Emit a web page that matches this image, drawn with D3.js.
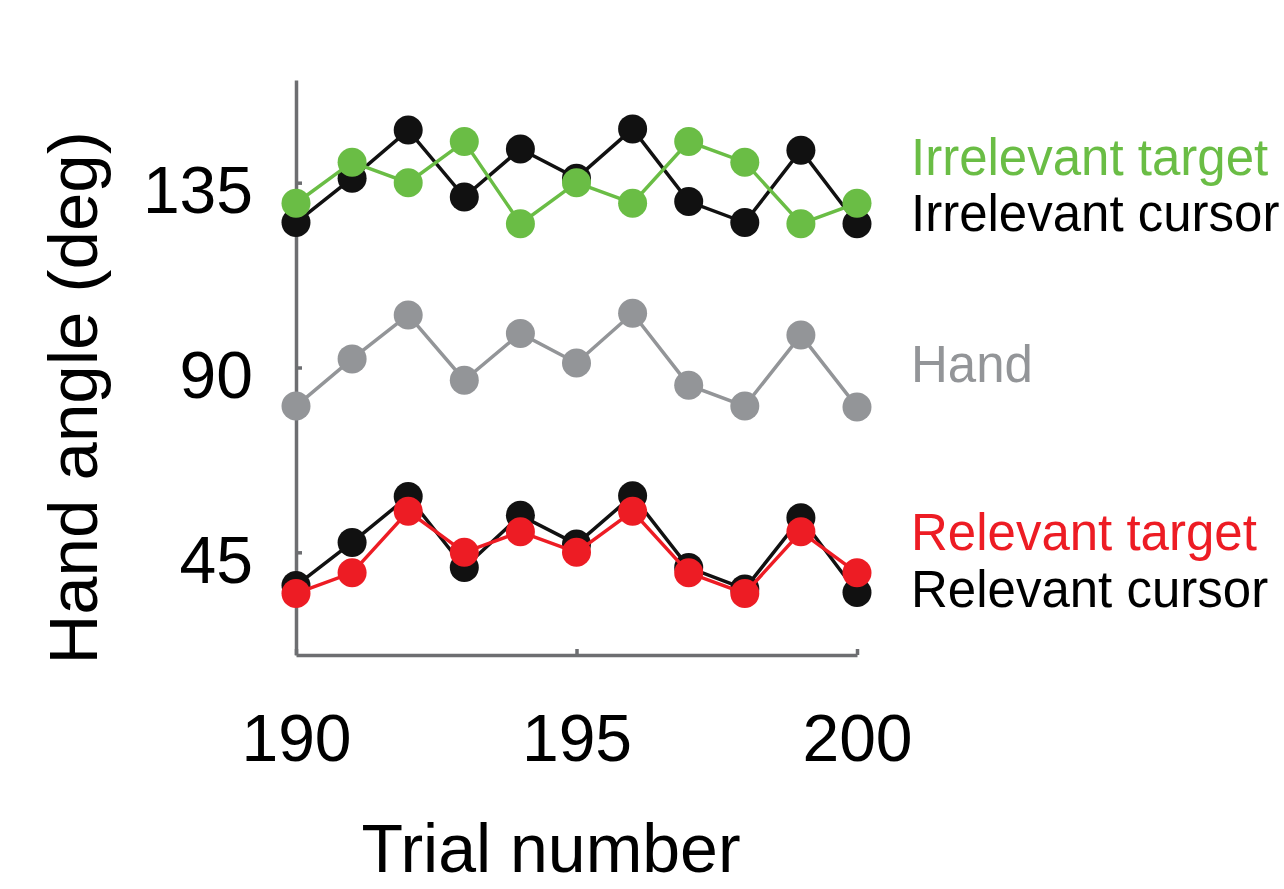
<!DOCTYPE html>
<html lang="en">
<head>
<meta charset="UTF-8"/>
<title>Hand angle by trial</title>
<style>
  body { margin: 0; background: #ffffff; font-family: "Liberation Sans", Arial, sans-serif; }
  svg { display: block; }
  .axis path, .axis line { stroke: #6d6e71; stroke-width: 3.5; }
  .axis text { font-family: "Liberation Sans", Arial, sans-serif; fill: #000; }
</style>
</head>
<body>
<svg width="1284" height="889"></svg>
<script src="https://d3js.org/d3.v7.min.js"></script>
<script>
// data
const trials = [190, 191, 192, 193, 194, 195, 196, 197, 198, 199, 200];
const irrTarget = [130, 140, 135, 145, 125, 135, 130, 145, 140, 125, 130];
const irrCursor = [125.3, 136.1, 147.8, 131.5, 143.2, 136.1, 148.1, 130.4, 125.3, 142.9, 125.0];
const hand = [80.6, 92.1, 102.8, 86.9, 98.3, 91.1, 103.2, 85.7, 80.6, 97.9, 80.4];
const relTarget = [35, 40, 55, 45, 50, 45, 55, 40, 35, 50, 40];
const relCursor = [36.9, 47.4, 58.6, 41.3, 54.0, 47.0, 58.8, 41.3, 36.1, 53.4, 35.2];
const xTicks = [190, 195, 200];
const yTicks = [45, 90, 135];

const svg = d3.select('svg');

const xScale = d3.scaleLinear().domain([190, 200]).range([296, 857]);
const yScale = d3.scaleLinear().domain([20, 160]).range([655, 80]);

// axes
const xAxis = svg.append('g')
  .attr('class', 'axis')
  .attr('transform', 'translate(0, 655)')
  .call(d3.axisBottom(xScale).tickValues(xTicks).tickSizeInner(-6).tickSizeOuter(0).tickFormat(d3.format('d')));
xAxis.selectAll('text')
  .attr('y', 0)
  .attr('dy', 0)
  .attr('transform', 'translate(0, 106)')
  .style('font-size', '66px');

const yAxis = svg.append('g')
  .attr('class', 'axis')
  .attr('transform', 'translate(296, 0)')
  .call(d3.axisLeft(yScale).tickValues(yTicks).tickSizeInner(-6).tickSizeOuter(0));
yAxis.selectAll('text')
  .attr('x', -43)
  .attr('dy', 30)
  .style('font-size', '66px');

// series, drawn back to front
const series = [
  { name: 'Hand', values: hand, color: '#939598' },
  { name: 'Irrelevant cursor', values: irrCursor, color: '#111111' },
  { name: 'Irrelevant target', values: irrTarget, color: '#6abd45' },
  { name: 'Relevant cursor', values: relCursor, color: '#111111' },
  { name: 'Relevant target', values: relTarget, color: '#ed1c24' }
];

const line = d3.line()
  .x((d, i) => xScale(trials[i]))
  .y(d => yScale(d));

series.forEach(s => {
  const g = svg.append('g');
  g.append('path')
    .attr('d', line(s.values))
    .attr('fill', 'none')
    .attr('stroke', s.color)
    .attr('stroke-width', 3.5);
  g.selectAll('circle')
    .data(s.values)
    .enter()
    .append('circle')
    .attr('cx', (d, i) => xScale(trials[i]))
    .attr('cy', d => yScale(d))
    .attr('r', 14.5)
    .attr('fill', s.color);
});

// labels on the right
const labels = [
  { text: 'Irrelevant target', color: '#6abd45', y: 175 },
  { text: 'Irrelevant cursor', color: '#000000', y: 231 },
  { text: 'Hand', color: '#939598', y: 382 },
  { text: 'Relevant target', color: '#ed1c24', y: 550 },
  { text: 'Relevant cursor', color: '#000000', y: 607 }
];
svg.selectAll('.legend')
  .data(labels)
  .enter()
  .append('text')
  .attr('class', 'legend')
  .attr('x', 911)
  .attr('y', d => d.y)
  .style('font-size', '51px')
  .style('fill', d => d.color)
  .text(d => d.text);

// axis titles
svg.append('text')
  .attr('transform', 'translate(97, 398) rotate(-90)')
  .attr('text-anchor', 'middle')
  .style('font-size', '69px')
  .text('Hand angle (deg)');

svg.append('text')
  .attr('x', 551)
  .attr('y', 872)
  .attr('text-anchor', 'middle')
  .style('font-size', '68px')
  .text('Trial number');
</script>
</body>
</html>
